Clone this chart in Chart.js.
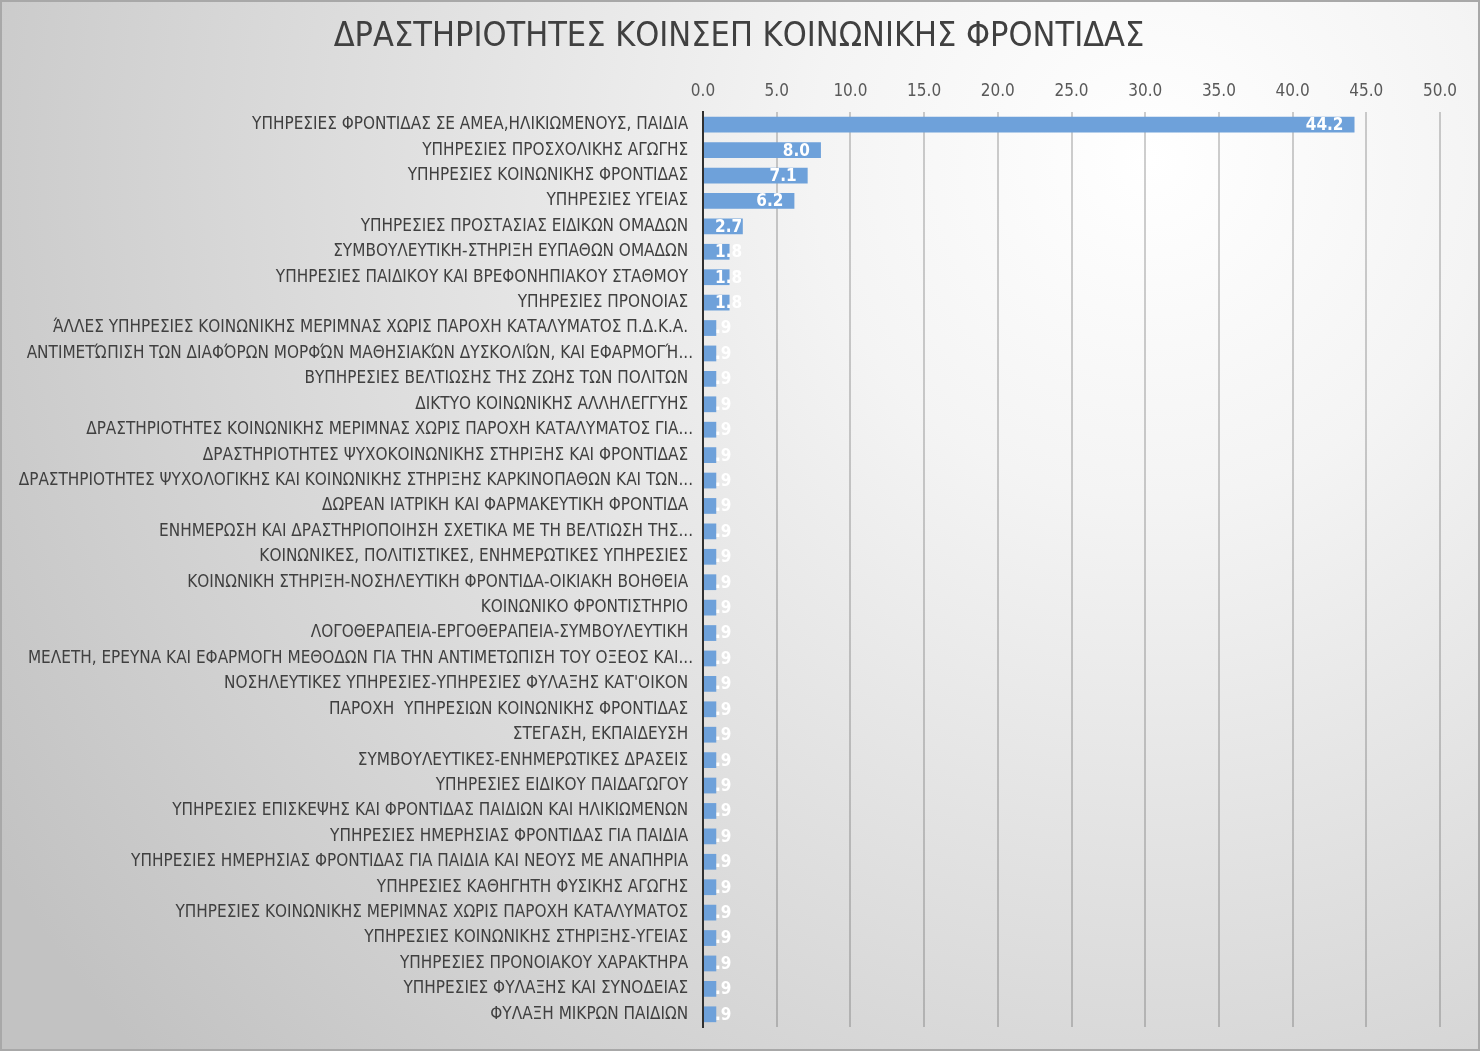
<!DOCTYPE html>
<html>
<head>
<meta charset="utf-8">
<script src="https://cdn.jsdelivr.net/npm/chart.js@4"></script>
<style>
html,body{margin:0;padding:0;background:#fff;}
#wrap{width:1480px;height:1051px;}
</style>
</head>
<body>
<div id="wrap"><canvas id="c" width="1480" height="1051"></canvas></div>
<script>
const chartTitle = 'ΔΡΑΣΤΗΡΙΟΤΗΤΕΣ ΚΟΙΝΣΕΠ ΚΟΙΝΩΝΙΚΗΣ ΦΡΟΝΤΙΔΑΣ';
const categories = [
  'ΥΠΗΡΕΣΙΕΣ ΦΡΟΝΤΙΔΑΣ ΣΕ ΑΜΕΑ,ΗΛΙΚΙΩΜΕΝΟΥΣ, ΠΑΙΔΙΑ ',
  'ΥΠΗΡΕΣΙΕΣ ΠΡΟΣΧΟΛΙΚΗΣ ΑΓΩΓΗΣ ',
  'ΥΠΗΡΕΣΙΕΣ ΚΟΙΝΩΝΙΚΗΣ ΦΡΟΝΤΙΔΑΣ ',
  'ΥΠΗΡΕΣΙΕΣ ΥΓΕΙΑΣ ',
  'ΥΠΗΡΕΣΙΕΣ ΠΡΟΣΤΑΣΙΑΣ ΕΙΔΙΚΩΝ ΟΜΑΔΩΝ ',
  'ΣΥΜΒΟΥΛΕΥΤΙΚΗ-ΣΤΗΡΙΞΗ ΕΥΠΑΘΩΝ ΟΜΑΔΩΝ ',
  'ΥΠΗΡΕΣΙΕΣ ΠΑΙΔΙΚΟΥ ΚΑΙ ΒΡΕΦΟΝΗΠΙΑΚΟΥ ΣΤΑΘΜΟΥ ',
  'ΥΠΗΡΕΣΙΕΣ ΠΡΟΝΟΙΑΣ ',
  'ΆΛΛΕΣ ΥΠΗΡΕΣΙΕΣ ΚΟΙΝΩΝΙΚΗΣ ΜΕΡΙΜΝΑΣ ΧΩΡΙΣ ΠΑΡΟΧΗ ΚΑΤΑΛΥΜΑΤΟΣ Π.Δ.Κ.Α. ',
  'ΑΝΤΙΜΕΤΏΠΙΣΗ ΤΩΝ ΔΙΑΦΌΡΩΝ ΜΟΡΦΏΝ ΜΑΘΗΣΙΑΚΏΝ ΔΥΣΚΟΛΙΏΝ, ΚΑΙ ΕΦΑΡΜΟΓΉ...',
  'ΒΥΠΗΡΕΣΙΕΣ ΒΕΛΤΙΩΣΗΣ ΤΗΣ ΖΩΗΣ ΤΩΝ ΠΟΛΙΤΩΝ ',
  'ΔΙΚΤΥΟ ΚΟΙΝΩΝΙΚΗΣ ΑΛΛΗΛΕΓΓΥΗΣ ',
  'ΔΡΑΣΤΗΡΙΟΤΗΤΕΣ ΚΟΙΝΩΝΙΚΗΣ ΜΕΡΙΜΝΑΣ ΧΩΡΙΣ ΠΑΡΟΧΗ ΚΑΤΑΛΥΜΑΤΟΣ ΓΙΑ...',
  'ΔΡΑΣΤΗΡΙΟΤΗΤΕΣ ΨΥΧΟΚΟΙΝΩΝΙΚΗΣ ΣΤΗΡΙΞΗΣ ΚΑΙ ΦΡΟΝΤΙΔΑΣ ',
  'ΔΡΑΣΤΗΡΙΟΤΗΤΕΣ ΨΥΧΟΛΟΓΙΚΗΣ ΚΑΙ ΚΟΙΝΩΝΙΚΗΣ ΣΤΗΡΙΞΗΣ ΚΑΡΚΙΝΟΠΑΘΩΝ ΚΑΙ ΤΩΝ...',
  'ΔΩΡΕΑΝ ΙΑΤΡΙΚΗ ΚΑΙ ΦΑΡΜΑΚΕΥΤΙΚΗ ΦΡΟΝΤΙΔΑ ',
  'ΕΝΗΜΕΡΩΣΗ ΚΑΙ ΔΡΑΣΤΗΡΙΟΠΟΙΗΣΗ ΣΧΕΤΙΚΑ ΜΕ ΤΗ ΒΕΛΤΙΩΣΗ ΤΗΣ...',
  'ΚΟΙΝΩΝΙΚΕΣ, ΠΟΛΙΤΙΣΤΙΚΕΣ, ΕΝΗΜΕΡΩΤΙΚΕΣ ΥΠΗΡΕΣΙΕΣ ',
  'ΚΟΙΝΩΝΙΚΗ ΣΤΗΡΙΞΗ-ΝΟΣΗΛΕΥΤΙΚΗ ΦΡΟΝΤΙΔΑ-ΟΙΚΙΑΚΗ ΒΟΗΘΕΙΑ ',
  'ΚΟΙΝΩΝΙΚΟ ΦΡΟΝΤΙΣΤΗΡΙΟ ',
  'ΛΟΓΟΘΕΡΑΠΕΙΑ-ΕΡΓΟΘΕΡΑΠΕΙΑ-ΣΥΜΒΟΥΛΕΥΤΙΚΗ ',
  'ΜΕΛΕΤΗ, ΕΡΕΥΝΑ ΚΑΙ ΕΦΑΡΜΟΓΗ ΜΕΘΟΔΩΝ ΓΙΑ ΤΗΝ ΑΝΤΙΜΕΤΩΠΙΣΗ ΤΟΥ ΟΞΕΟΣ ΚΑΙ...',
  'ΝΟΣΗΛΕΥΤΙΚΕΣ ΥΠΗΡΕΣΙΕΣ-ΥΠΗΡΕΣΙΕΣ ΦΥΛΑΞΗΣ ΚΑΤ\'ΟΙΚΟΝ ',
  'ΠΑΡΟΧΗ  ΥΠΗΡΕΣΙΩΝ ΚΟΙΝΩΝΙΚΗΣ ΦΡΟΝΤΙΔΑΣ ',
  'ΣΤΕΓΑΣΗ, ΕΚΠΑΙΔΕΥΣΗ ',
  'ΣΥΜΒΟΥΛΕΥΤΙΚΕΣ-ΕΝΗΜΕΡΩΤΙΚΕΣ ΔΡΑΣΕΙΣ ',
  'ΥΠΗΡΕΣΙΕΣ ΕΙΔΙΚΟΥ ΠΑΙΔΑΓΩΓΟΥ ',
  'ΥΠΗΡΕΣΙΕΣ ΕΠΙΣΚΕΨΗΣ ΚΑΙ ΦΡΟΝΤΙΔΑΣ ΠΑΙΔΙΩΝ ΚΑΙ ΗΛΙΚΙΩΜΕΝΩΝ ',
  'ΥΠΗΡΕΣΙΕΣ ΗΜΕΡΗΣΙΑΣ ΦΡΟΝΤΙΔΑΣ ΓΙΑ ΠΑΙΔΙΑ ',
  'ΥΠΗΡΕΣΙΕΣ ΗΜΕΡΗΣΙΑΣ ΦΡΟΝΤΙΔΑΣ ΓΙΑ ΠΑΙΔΙΑ ΚΑΙ ΝΕΟΥΣ ΜΕ ΑΝΑΠΗΡΙΑ ',
  'ΥΠΗΡΕΣΙΕΣ ΚΑΘΗΓΗΤΗ ΦΥΣΙΚΗΣ ΑΓΩΓΗΣ ',
  'ΥΠΗΡΕΣΙΕΣ ΚΟΙΝΩΝΙΚΗΣ ΜΕΡΙΜΝΑΣ ΧΩΡΙΣ ΠΑΡΟΧΗ ΚΑΤΑΛΥΜΑΤΟΣ ',
  'ΥΠΗΡΕΣΙΕΣ ΚΟΙΝΩΝΙΚΗΣ ΣΤΗΡΙΞΗΣ-ΥΓΕΙΑΣ ',
  'ΥΠΗΡΕΣΙΕΣ ΠΡΟΝΟΙΑΚΟΥ ΧΑΡΑΚΤΗΡΑ ',
  'ΥΠΗΡΕΣΙΕΣ ΦΥΛΑΞΗΣ ΚΑΙ ΣΥΝΟΔΕΙΑΣ ',
  'ΦΥΛΑΞΗ ΜΙΚΡΩΝ ΠΑΙΔΙΩΝ '
];
const values = [
  44.2, 8.0, 7.1, 6.2, 2.7, 1.8, 1.8, 1.8,
  0.9, 0.9, 0.9, 0.9, 0.9, 0.9, 0.9, 0.9, 0.9, 0.9,
  0.9, 0.9, 0.9, 0.9, 0.9, 0.9, 0.9, 0.9, 0.9, 0.9,
  0.9, 0.9, 0.9, 0.9, 0.9, 0.9, 0.9, 0.9
];
const axisMin = 0;
const axisMax = 50;
const axisStep = 5;

const FONT = "'Liberation Sans Narrow', 'Arial Narrow', 'DejaVu Sans Condensed', sans-serif";

const bgPlugin = {
  id: 'bg',
  beforeDraw(chart) {
    const ctx = chart.ctx, w = chart.width, h = chart.height;
    ctx.save();
    const g = ctx.createRadialGradient(1150, 160, 0, 1150, 160, 1350);
    g.addColorStop(0, '#ffffff');
    g.addColorStop(0.25, '#f4f4f4');
    g.addColorStop(0.7, '#d6d6d6');
    g.addColorStop(1, '#c2c2c2');
    ctx.fillStyle = g;
    ctx.fillRect(0, 0, w, h);
    ctx.strokeStyle = '#a8a8a8';
    ctx.lineWidth = 2;
    ctx.strokeRect(1, 1, w - 2, h - 2);
    ctx.restore();
  }
};

const titlePlugin = {
  id: 'customTitle',
  afterDraw(chart) {
    const ctx = chart.ctx;
    ctx.save();
    ctx.font = '34px ' + FONT;
    ctx.fillStyle = '#404040';
    ctx.textAlign = 'center';
    ctx.textBaseline = 'middle';
    ctx.fillText(chartTitle, 739, 37);
    ctx.restore();
  }
};

const labelPlugin = {
  id: 'barLabels',
  afterDatasetsDraw(chart) {
    const ctx = chart.ctx;
    const meta = chart.getDatasetMeta(0);
    ctx.save();
    ctx.font = 'bold 17px ' + FONT;
    ctx.fillStyle = '#ffffff';
    ctx.textAlign = 'left';
    ctx.textBaseline = 'middle';
    meta.data.forEach((bar, i) => {
      const v = chart.data.datasets[0].data[i];
      const txt = v.toFixed(1).replace(/^0(?=\.)/, '');
      const w = ctx.measureText(txt).width;
      const x = Math.max(bar.x - 11 - w, bar.base + 11);
      ctx.fillText(txt, x, bar.y + 1);
    });
    ctx.restore();
  }
};

new Chart(document.getElementById('c'), {
  type: 'bar',
  data: {
    labels: categories,
    datasets: [{
      data: values,
      backgroundColor: '#6ea1da',
      borderWidth: 0,
      barPercentage: 0.62,
      categoryPercentage: 1.0
    }]
  },
  plugins: [bgPlugin, labelPlugin, titlePlugin],
  options: {
    indexAxis: 'y',
    responsive: false,
    animation: false,
    layout: { padding: { left: 0, right: 40, top: 72, bottom: 24 } },
    plugins: {
      legend: { display: false },
      tooltip: { enabled: false },
      title: { display: false }
    },
    scales: {
      x: {
        position: 'top',
        min: axisMin,
        max: axisMax,
        afterFit(scale) { scale.height = 40; },
        ticks: {
          stepSize: axisStep,
          color: '#595959',
          font: { family: FONT, size: 17 },
          padding: 10,
          callback: (v) => Number(v).toFixed(1)
        },
        grid: { color: 'rgba(80,80,80,0.28)', lineWidth: 2, drawTicks: false },
        border: { display: false }
      },
      y: {
        afterFit(scale) { scale.width = 703; },
        ticks: {
          color: '#404040',
          font: { family: FONT, size: 17 },
          padding: 10,
          autoSkip: false
        },
        grid: { display: false, drawTicks: false },
        border: { display: true, color: '#303030', width: 2 }
      }
    }
  }
});
</script>
</body>
</html>
